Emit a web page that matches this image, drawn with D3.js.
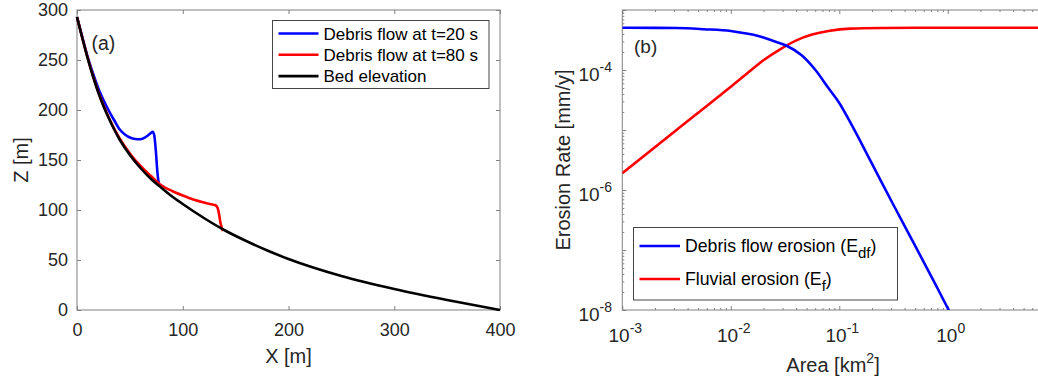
<!DOCTYPE html>
<html><head><meta charset="utf-8">
<script src="https://cdn.jsdelivr.net/npm/d3@7"></script>
<style>
html,body{margin:0;padding:0;background:#fff;}
svg{display:block;font-family:"Liberation Sans",Arial,Helvetica,sans-serif;}
</style></head>
<body>
<svg id="chart" width="1038" height="382"></svg>
<script>
// ---------- Panel (a) data ----------
const bedX  = [0, 5, 10, 15, 20, 25, 30, 40, 50, 60, 70, 80, 90, 100, 120, 140, 160, 180, 200, 250, 300, 350, 400];
const bedZ  = [293, 272, 252, 234, 218, 204, 192, 171, 155, 142, 131, 122, 113.5, 106, 92, 79.5, 69, 59.5, 51, 34, 21, 10, 0];
const flow20X = [0, 5, 10, 15, 20, 25, 30, 35, 40, 45, 50, 55, 60, 65, 70, 71.5, 73, 74.7, 76, 77.5];
const flow20Z = [293, 273, 253.5, 237, 222, 210, 199.5, 190, 181, 175.8, 172.5, 171, 170.8, 173, 177, 178.3, 175, 157, 138, 125];
const flow80X = [0, 10, 20, 30, 40, 50, 60, 70, 80, 90, 100, 110, 120, 128, 131, 133, 134.5, 135.5, 137, 138];
const flow80Z = [293, 252.5, 218.5, 192.5, 172, 156.5, 144, 134, 124.5, 119, 114.5, 110.5, 107.5, 105.5, 104.8, 102, 95, 88, 82, 79];
const xTicksA = [0, 100, 200, 300, 400];
const yTicksA = [0, 50, 100, 150, 200, 250, 300];
const legendA = ["Debris flow at t=20 s", "Debris flow at t=80 s", "Bed elevation"];

// ---------- Panel (b) data ----------
const areaDf  = [1e-3, 3.16e-3, 5.62e-3, 1e-2, 1.26e-2, 1.58e-2, 2.0e-2, 2.51e-2, 3.27e-2, 4.47e-2, 6.03e-2, 7.94e-2, 0.1, 0.126, 0.2, 0.316, 0.501, 0.794, 1.02, 1.2];
const erosDf  = [5.07e-4, 5.01e-4, 4.79e-4, 4.47e-4, 4.17e-4, 3.89e-4, 3.47e-4, 3.02e-4, 2.54e-4, 1.78e-4, 1.0e-4, 5.01e-5, 2.82e-5, 1.35e-5, 2.75e-6, 5.62e-7, 1.17e-7, 2.4e-8, 1.0e-8, 5.6e-9];
const areaF   = [1e-3, 3.16e-3, 1e-2, 1.41e-2, 2.0e-2, 2.82e-2, 3.98e-2, 5.62e-2, 7.94e-2, 0.126, 0.251, 1.0, 7.08];
const erosF   = [1.91e-6, 1.0e-5, 5.25e-5, 8.71e-5, 1.45e-4, 2.19e-4, 3.09e-4, 3.89e-4, 4.47e-4, 4.9e-4, 5.01e-4, 5.07e-4, 5.07e-4];
const xTickExpB = [-3, -2, -1, 0];
const yTickExpB = [-8, -6, -4];

const svg = d3.select("#chart");
const AX = "#808080", TXT = "#262626";

// ================= Panel (a) =================
const xA = d3.scaleLinear().domain([0, 400]).range([77, 500]);
const yA = d3.scaleLinear().domain([0, 300]).range([310, 10]);
const gA = svg.append("g");

function styleAxis(g){
  g.select(".domain").remove();
  g.selectAll(".tick line").attr("stroke", AX);
  g.selectAll(".tick text").attr("fill", TXT).style("font-size","18px").attr("font-family",null);
}
gA.append("g").attr("transform","translate(0,310)")
  .call(d3.axisBottom(xA).tickValues(xTicksA).tickSizeInner(-4).tickSizeOuter(0).tickPadding(13))
  .call(styleAxis);
gA.append("g").attr("transform","translate(0,10)")
  .call(d3.axisTop(xA).tickValues(xTicksA).tickSizeInner(-4).tickSizeOuter(0).tickFormat(""))
  .call(styleAxis);
gA.append("g").attr("transform","translate(77,0)")
  .call(d3.axisLeft(yA).tickValues(yTicksA).tickSizeInner(-4).tickSizeOuter(0).tickPadding(9))
  .call(styleAxis);
gA.append("g").attr("transform","translate(500,0)")
  .call(d3.axisRight(yA).tickValues(yTicksA).tickSizeInner(-4).tickSizeOuter(0).tickFormat(""))
  .call(styleAxis);
gA.append("rect").attr("x",77).attr("y",10).attr("width",423).attr("height",300)
  .attr("fill","none").attr("stroke",AX).attr("stroke-width",1);

const lineA = d3.line().x(d=>xA(d[0])).y(d=>yA(d[1])).curve(d3.curveMonotoneX);
const zip = (a,b)=>a.map((v,i)=>[v,b[i]]);
gA.append("path").datum(zip(flow20X,flow20Z)).attr("d",lineA)
  .attr("fill","none").attr("stroke","#0000ff").attr("stroke-width",2.6).attr("stroke-linejoin","round");
gA.append("path").datum(zip(flow80X,flow80Z)).attr("d",lineA)
  .attr("fill","none").attr("stroke","#ff0000").attr("stroke-width",2.6).attr("stroke-linejoin","round");
gA.append("path").datum(zip(bedX,bedZ)).attr("d",lineA)
  .attr("fill","none").attr("stroke","#000").attr("stroke-width",2.6).attr("stroke-linejoin","round");

gA.append("text").attr("x",91.5).attr("y",50).attr("fill",TXT).style("font-size","19.5px").text("(a)");
gA.append("text").attr("x",288.5).attr("y",363).attr("text-anchor","middle").attr("fill",TXT)
  .style("font-size","20px").text("X [m]");
gA.append("text").attr("transform","translate(28,160) rotate(-90)").attr("text-anchor","middle").attr("fill",TXT)
  .style("font-size","20px").text("Z [m]");

// legend (a)
const legA = gA.append("g");
legA.append("rect").attr("x",272.5).attr("y",20.5).attr("width",216.5).attr("height",68)
  .attr("fill","#fff").attr("stroke","#444").attr("stroke-width",1);
const colA = ["#0000ff","#ff0000","#000000"];
legendA.forEach((t,i)=>{
  const y = 33.5 + i*21.3;
  legA.append("line").attr("x1",278.5).attr("x2",318.5).attr("y1",y).attr("y2",y)
    .attr("stroke",colA[i]).attr("stroke-width",2.6);
  legA.append("text").attr("x",323.5).attr("y",y+6).attr("fill","#000").style("font-size","17px").text(t);
});

// ================= Panel (b) =================
const xB = d3.scaleLog().domain([1e-3, 7.08]).range([622.3, 1040]);
const yB = d3.scaleLog().domain([1e-8, 1e-3]).range([310, 10]);
const gB = svg.append("g");

const majorX = [1e-3,1e-2,1e-1,1e0];
const minorX = [];
[-3,-2,-1,0].forEach(e=>{ for(let k=2;k<=9;k++){ const v=k*Math.pow(10,e); if(v<=7.08) minorX.push(v);} });
const majorY = [1e-8,1e-7,1e-6,1e-5,1e-4,1e-3];
const minorY = [];
[-8,-7,-6,-5,-4].forEach(e=>{ for(let k=2;k<=9;k++) minorY.push(k*Math.pow(10,e)); });

function ticks(axisFn, scale, vals, len, tr){
  gB.append("g").attr("transform",tr)
    .call(axisFn(scale).tickValues(vals).tickSizeInner(-len).tickSizeOuter(0).tickFormat(""))
    .call(styleAxis);
}
ticks(d3.axisBottom, xB, majorX, 4, "translate(0,310)");
ticks(d3.axisBottom, xB, minorX, 2, "translate(0,310)");
ticks(d3.axisTop, xB, majorX, 4, "translate(0,10)");
ticks(d3.axisTop, xB, minorX, 2, "translate(0,10)");
ticks(d3.axisLeft, yB, majorY, 4, "translate(622.3,0)");
ticks(d3.axisLeft, yB, minorY, 2, "translate(622.3,0)");
gB.append("rect").attr("x",622.3).attr("y",10).attr("width",430).attr("height",300)
  .attr("fill","none").attr("stroke",AX).attr("stroke-width",1);

// tick labels
xTickExpB.forEach(e=>{
  const t = gB.append("text").attr("x",xB(Math.pow(10,e))+3).attr("y",341.5).attr("text-anchor","middle").attr("fill",TXT)
    .style("font-size","19px");
  t.append("tspan").text("10");
  t.append("tspan").attr("dy",-9).style("font-size","14px").text(e===0?"0":"-"+(-e));
});
yTickExpB.forEach(e=>{
  const y = yB(Math.pow(10,e));
  const t = gB.append("text").attr("x",612).attr("y",y+10.5).attr("text-anchor","end").attr("fill",TXT)
    .style("font-size","19px");
  t.append("tspan").text("10");
  t.append("tspan").attr("dy",-9).style("font-size","14px").text("-"+(-e));
});

gB.append("defs").append("clipPath").attr("id","clipB").append("rect")
  .attr("x",622.3).attr("y",10).attr("width",420).attr("height",300);
const lineB = d3.line().x(d=>xB(d[0])).y(d=>yB(d[1])).curve(d3.curveMonotoneX);
gB.append("path").datum(zip(areaF,erosF)).attr("d",lineB).attr("clip-path","url(#clipB)")
  .attr("fill","none").attr("stroke","#ff0000").attr("stroke-width",2.6);
gB.append("path").datum(zip(areaDf,erosDf)).attr("d",lineB).attr("clip-path","url(#clipB)")
  .attr("fill","none").attr("stroke","#0000ff").attr("stroke-width",2.6);

gB.append("text").attr("x",634).attr("y",53).attr("fill",TXT).style("font-size","19px").text("(b)");
const xl = gB.append("text").attr("x",833).attr("y",372).attr("text-anchor","middle").attr("fill",TXT).style("font-size","20px");
xl.append("tspan").text("Area [km");
xl.append("tspan").attr("dy",-9).style("font-size","14px").text("2");
xl.append("tspan").attr("dy",9).text("]");
gB.append("text").attr("transform","translate(570,160) rotate(-90)").attr("text-anchor","middle").attr("fill",TXT)
  .style("font-size","20px").text("Erosion Rate [mm/y]");

// legend (b)
const legB = gB.append("g");
legB.append("rect").attr("x",633.5).attr("y",227.5).attr("width",264).attr("height",72.5)
  .attr("fill","#fff").attr("stroke","#444").attr("stroke-width",1);
const legBItems = [["Debris flow erosion (E","df",")","#0000ff"],["Fluvial erosion (E","f",")","#ff0000"]];
legBItems.forEach((it,i)=>{
  const y = 246 + i*33;
  legB.append("line").attr("x1",639.5).attr("x2",680).attr("y1",y).attr("y2",y)
    .attr("stroke",it[3]).attr("stroke-width",2.6);
  const t = legB.append("text").attr("x",685).attr("y",y+6).attr("fill","#000").style("font-size","17.7px");
  t.append("tspan").text(it[0]);
  t.append("tspan").attr("dy",6).style("font-size","15px").text(it[1]);
  t.append("tspan").attr("dy",-6).text(it[2]);
});
</script>
</body></html>
